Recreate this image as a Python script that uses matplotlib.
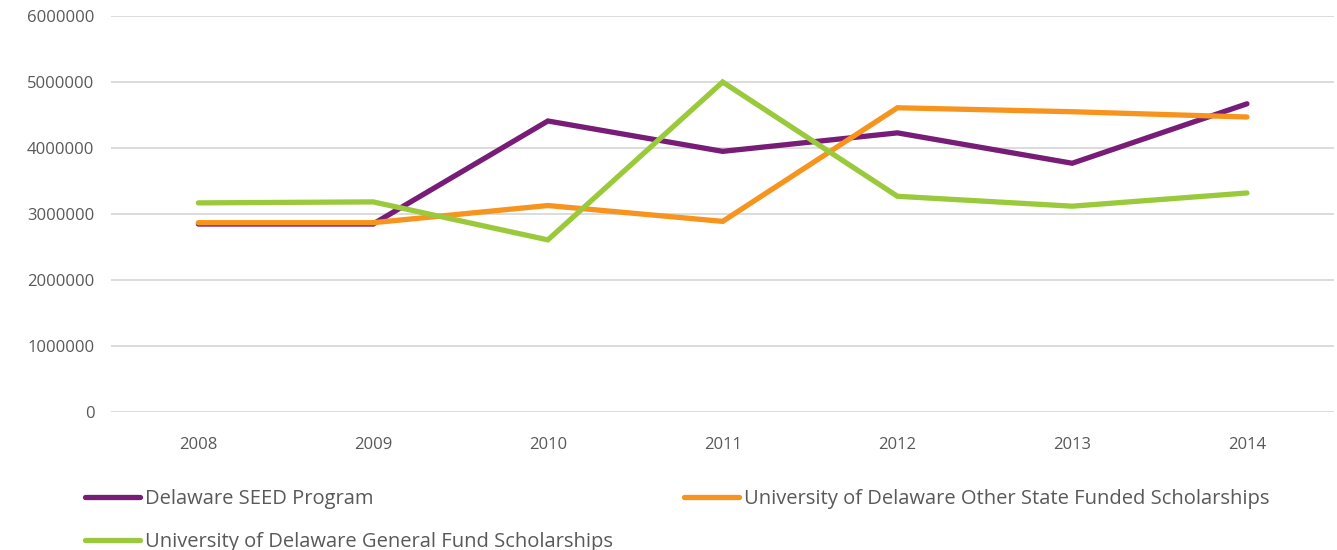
import matplotlib.pyplot as plt
import numpy as np

years = ["2008", "2009", "2010", "2011", "2012", "2013", "2014"]
seed = [2850000, 2850000, 4410000, 3950000, 4230000, 3770000, 4670000]
other_state = [2870000, 2870000, 3130000, 2890000, 4610000, 4550000, 4470000]
general_fund = [3170000, 3185000, 2610000, 5000000, 3270000, 3120000, 3320000]

SERIES = [
    ("Delaware SEED Program", seed, "#771C77"),
    ("University of Delaware General Fund Scholarships", general_fund, "#9ACA3C"),
    ("University of Delaware Other State Funded Scholarships", other_state, "#F7941D"),
]
DRAW_ORDER = [0, 2, 1]  # purple under orange, green on top

plt.rcParams["font.family"] = ["Open Sans", "DejaVu Sans"]

fig = plt.figure(figsize=(13.37, 5.5), dpi=100)
ax = fig.add_axes((0.083, 0.2504, 0.915, 0.7206))

x = np.arange(len(years))
handles = [None] * len(SERIES)
for i in DRAW_ORDER:
    label, vals, color = SERIES[i]
    (ln,) = ax.plot(x, vals, color=color, lw=3.8, solid_capstyle="round",
                    solid_joinstyle="miter", label=label)
    handles[i] = ln

ax.set_xlim(-0.5, len(years) - 0.5)
ax.set_ylim(0, 6000000)
ax.set_yticks(np.arange(0, 6000001, 1000000))
ax.set_yticklabels([f"{v:d}" for v in range(0, 6000001, 1000000)])
ax.set_xticks(x, years)
ax.grid(axis="y", color="#D9D9D9", lw=1.3)
ax.set_axisbelow(True)
for s in ax.spines.values():
    s.set_visible(False)
ax.tick_params(length=0, labelsize=12, labelcolor="#595959")
ax.tick_params(axis="x", pad=17.5)
ax.tick_params(axis="y", pad=12)

# legend: SEED + General Fund in the left column, Other State on the right
fig.legend(handles=handles, labels=[s[0] for s in SERIES], ncol=2,
           loc="upper left", bbox_to_anchor=(0.0636, 0.1115), frameon=False,
           fontsize=14.5, labelcolor="#595959", handlelength=2.75,
           handletextpad=0.25, columnspacing=3.5, labelspacing=1.15,
           borderpad=0, borderaxespad=0)

fig.savefig("out.png", dpi=100)
